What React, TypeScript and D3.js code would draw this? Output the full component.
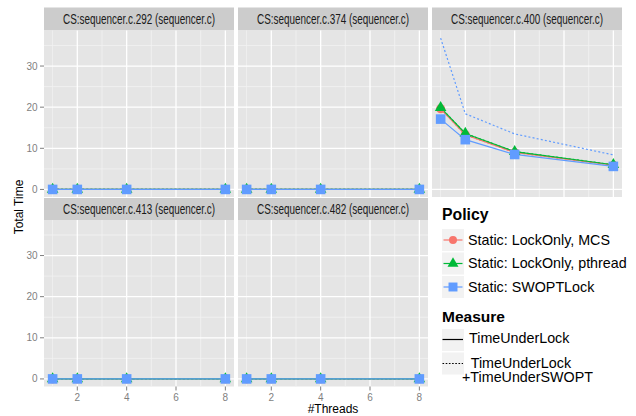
import React from "react";
import * as d3 from "d3";

const threads = [1, 2, 4, 8];
const panelTitles = [
  "CS:sequencer.c.292 (sequencer.c)",
  "CS:sequencer.c.374 (sequencer.c)",
  "CS:sequencer.c.400 (sequencer.c)",
  "CS:sequencer.c.413 (sequencer.c)",
  "CS:sequencer.c.482 (sequencer.c)",
];
const policies = ["Static: LockOnly, MCS", "Static: LockOnly, pthread", "Static: SWOPTLock"];
const policyColors = ["#F8766D", "#00BA38", "#619CFF"];
const measureLabels = ["TimeUnderLock", "TimeUnderLock", "+TimeUnderSWOPT"];

// TimeUnderLock per panel (x = threads)
const mcsLock = [
  [0, 0, 0, 0],
  [0, 0, 0, 0],
  [19.6, 13.3, 9.0, 5.9],
  [0, 0, 0, 0],
  [0, 0, 0, 0],
];
const pthreadLock = [
  [0, 0, 0, 0],
  [0, 0, 0, 0],
  [19.9, 13.6, 9.2, 6.0],
  [0, 0, 0, 0],
  [0, 0, 0, 0],
];
const swoptLock = [
  [0, 0, 0, 0],
  [0, 0, 0, 0],
  [17.1, 12.1, 8.5, 5.6],
  [0, 0, 0, 0],
  [0, 0, 0, 0],
];
// TimeUnderLock + TimeUnderSWOPT
const mcsTotal = mcsLock;
const pthreadTotal = pthreadLock;
const swoptTotal = [
  [0, 0, 0, 0],
  [0, 0, 0, 0],
  [36.8, 18.4, 13.5, 8.4],
  [0, 0, 0, 0],
  [0, 0, 0, 0],
];

const yTicks = [0, 10, 20, 30];
const yMinor = [5, 15, 25, 35];
const xTicks = [2, 4, 6, 8];
const xMinor = [1, 3, 5, 7];

const expand = (lo: number, hi: number) => {
  const r = hi - lo;
  return [lo - 0.05 * r, hi + 0.05 * r];
};

export default function App() {
  const W = 636;
  const H = 416;
  const panelW = 190;
  const panelH = 166.5;
  const colX = [44, 238, 432];
  const rows = [
    { strip: 7.5, top: 30.5 },
    { strip: 198, top: 220 },
  ];
  const positions = [
    { c: 0, r: 0 },
    { c: 1, r: 0 },
    { c: 2, r: 0 },
    { c: 0, r: 1 },
    { c: 1, r: 1 },
  ];

  const allVals = [mcsLock, pthreadLock, swoptLock, swoptTotal].flat(2);
  const yMax = d3.max(allVals) as number;
  const yMin = d3.min(allVals) as number;
  const x = d3.scaleLinear().domain(expand(d3.min(threads)!, d3.max(threads)!)).range([0, panelW]);
  const y = d3.scaleLinear().domain(expand(yMin, yMax)).range([panelH, 0]);

  const line = d3
    .line<number>()
    .x((_, i) => x(threads[i]))
    .y((d) => y(d));

  const lockSeries = [mcsLock, pthreadLock, swoptLock];
  const totalSeries = [mcsTotal, pthreadTotal, swoptTotal];
  const symbols = [d3.symbolCircle, d3.symbolTriangle, d3.symbolSquare];
  const symSizes = [64, 58, 92];
  const legSizes = [50, 52, 80];

  const font = "'Liberation Sans', Arial, Helvetica, sans-serif";

  return (
    <svg
      width={W}
      height={H}
      style={{ position: "absolute", left: 0, top: 0, background: "#fff" }}
      fontFamily={font}
    >
      {panelTitles.map((title, p) => {
        const { c, r } = positions[p];
        const px = colX[c];
        const row = rows[r];
        const py = row.top;
        return (
          <g key={p}>
            {/* strip */}
            <rect x={px} y={row.strip} width={panelW} height={py - row.strip} fill="#CCCCCC" />
            <text
              x={px + panelW / 2}
              y={row.strip + (py - row.strip) / 2 + 5}
              textAnchor="middle"
              fontSize={14}
              fill="#1A1A1A"
              textLength={152}
              lengthAdjust="spacingAndGlyphs"
            >
              {title}
            </text>
            <g transform={`translate(${px},${py})`}>
              <rect width={panelW} height={panelH} fill="#E5E5E5" />
              {yMinor.map((v) => (
                <line key={"ym" + v} x1={0} x2={panelW} y1={y(v)} y2={y(v)} stroke="#F2F2F2" strokeWidth={0.8} />
              ))}
              {xMinor.map((v) => (
                <line key={"xm" + v} y1={0} y2={panelH} x1={x(v)} x2={x(v)} stroke="#F2F2F2" strokeWidth={0.8} />
              ))}
              {yTicks.map((v) => (
                <line key={"yM" + v} x1={0} x2={panelW} y1={y(v)} y2={y(v)} stroke="#FFFFFF" strokeWidth={1.3} />
              ))}
              {xTicks.map((v) => (
                <line key={"xM" + v} y1={0} y2={panelH} x1={x(v)} x2={x(v)} stroke="#FFFFFF" strokeWidth={1.3} />
              ))}
              {/* dotted total lines */}
              {totalSeries.map((s, k) => (
                <path
                  key={"t" + k}
                  d={line(s[p]) || ""}
                  fill="none"
                  stroke={policyColors[k]}
                  strokeWidth={1.2}
                  strokeDasharray="2,2.2"
                />
              ))}
              {/* solid lock lines */}
              {lockSeries.map((s, k) => (
                <path key={"l" + k} d={line(s[p]) || ""} fill="none" stroke={policyColors[k]} strokeWidth={1.2} />
              ))}
              {lockSeries.map((s, k) =>
                s[p].map((v, i) => (
                  <path
                    key={"pt" + k + "-" + i}
                    transform={`translate(${x(threads[i])},${y(v)})`}
                    d={d3.symbol(symbols[k], symSizes[k])() || ""}
                    fill={policyColors[k]}
                  />
                ))
              )}
              {/* y axis on left column */}
              {c === 0 &&
                yTicks.map((v) => (
                  <g key={"yt" + v} transform={`translate(0,${y(v)})`}>
                    <line x1={-4} x2={0} stroke="#7F7F7F" strokeWidth={1} />
                    <text x={-6.5} y={3.5} textAnchor="end" fontSize={10} fill="#7F7F7F">
                      {v}
                    </text>
                  </g>
                ))}
              {/* x axis on bottom row */}
              {r === 1 &&
                xTicks.map((v) => (
                  <g key={"xt" + v} transform={`translate(${x(v)},${panelH})`}>
                    <line y1={0} y2={4} stroke="#7F7F7F" strokeWidth={1} />
                    <text y={14.5} textAnchor="middle" fontSize={10} fill="#7F7F7F">
                      {v}
                    </text>
                  </g>
                ))}
            </g>
          </g>
        );
      })}

      {/* axis titles */}
      <text x={333} y={413} textAnchor="middle" fontSize={12} fill="#000">
        #Threads
      </text>
      <text transform="translate(23,207) rotate(-90)" textAnchor="middle" fontSize={12} fill="#000">
        Total Time
      </text>

      {/* legend: Policy */}
      <text x={442} y={220} fontSize={15.8} fontWeight="bold" fill="#000">
        Policy
      </text>
      {policies.map((name, k) => {
        const cy = 240 + k * 23.5;
        return (
          <g key={"leg" + k}>
            <rect x={442} y={cy - 11} width={22} height={22} fill="#F2F2F2" />
            <line x1={443.5} x2={462.5} y1={cy} y2={cy} stroke={policyColors[k]} strokeWidth={1.2} />
            <path
              transform={`translate(453,${cy})`}
              d={d3.symbol(symbols[k], legSizes[k])() || ""}
              fill={policyColors[k]}
            />
            <text x={468} y={cy + 4.5} fontSize={14.3} fill="#000">
              {name}
            </text>
          </g>
        );
      })}

      {/* legend: Measure */}
      <text x={442} y={321.5} fontSize={15.5} fontWeight="bold" fill="#000">
        Measure
      </text>
      <rect x={442} y={329} width={22} height={22} fill="#F2F2F2" />
      <line x1={442.5} x2={463} y1={339.5} y2={339.5} stroke="#000" strokeWidth={1.2} />
      <text x={469} y={342.7} fontSize={14.3} fill="#000">
        {measureLabels[0]}
      </text>
      <rect x={442} y={352.5} width={22} height={22} fill="#F2F2F2" />
      <line x1={442.5} x2={463} y1={363.5} y2={363.5} stroke="#000" strokeWidth={1.2} strokeDasharray="1.6,1.6" />
      <text x={470.7} y={367.7} fontSize={14.3} fill="#000">
        {measureLabels[1]}
      </text>
      <text x={462} y={382} fontSize={14.3} fill="#000">
        {measureLabels[2]}
      </text>
    </svg>
  );
}
